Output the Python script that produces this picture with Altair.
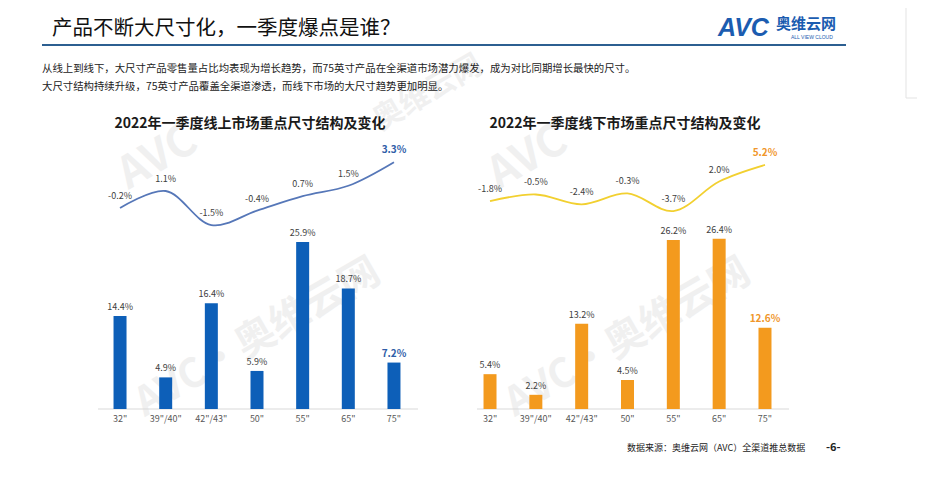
import altair as alt
import pandas as pd

# ---------------- data ----------------
sizes = ['32"', '39"/40"', '42"/43"', '50"', '55"', '65"', '75"']
online_share = [14.4, 4.9, 16.4, 5.9, 25.9, 18.7, 7.2]
online_growth = [-0.2, 1.1, -1.5, -0.4, 0.7, 1.5, 3.3]
offline_share = [5.4, 2.2, 13.2, 4.5, 26.2, 26.4, 12.6]
offline_growth = [-1.8, -0.5, -2.4, -0.3, -3.7, 2.0, 5.2]

title_text = "产品不断大尺寸化，一季度爆点是谁？"
note_lines = [
    "从线上到线下，大尺寸产品零售量占比均表现为增长趋势，而75英寸产品在全渠道市场潜力爆发，成为对比同期增长最快的尺寸。",
    "大尺寸结构持续升级，75英寸产品覆盖全渠道渗透，而线下市场的大尺寸趋势更加明显。",
]
panel_titles = ["2022年一季度线上市场重点尺寸结构及变化", "2022年一季度线下市场重点尺寸结构及变化"]
source_text = "数据来源：奥维云网（AVC）全渠道推总数据"
page_text = "-6-"

FONT = "Noto Sans CJK SC"
W, H = 909, 462


def txt(s, x, y, **kw):
    return alt.Chart(pd.DataFrame({"t": [s]})).mark_text(font=kw.pop("font", FONT), **kw).encode(
        x=alt.value(x), y=alt.value(y), text="t:N"
    )


def panel(share, growth, xrange, line_yrange, bar_color, line_color, hl_color, rule_x, title, title_x):
    df = pd.DataFrame({"size": sizes, "share": share, "growth": growth, "idx": list(range(len(sizes)))})
    df["share_lbl"] = [f"{v:.1f}%" for v in share]
    df["growth_lbl"] = [f"{v:.1f}%" for v in growth]
    xs = alt.Scale(domain=sizes, range=xrange, paddingInner=0, paddingOuter=0)
    X = alt.X("size:N", scale=xs, axis=None)
    ys = alt.Scale(domain=[0, 30], range=[401, 207.5])
    yl = alt.Scale(domain=[-5, 5], range=line_yrange)
    base = alt.Chart(df)
    norm = base.transform_filter("datum.idx < 6")
    hl = base.transform_filter("datum.idx == 6")

    rule = alt.Chart(pd.DataFrame({"a": [0]})).mark_rule(color="#d9d9d9", strokeWidth=1).encode(
        x=alt.value(rule_x[0]), x2=alt.value(rule_x[1]), y=alt.Y(datum=0, scale=ys, axis=None)
    )
    bars = base.mark_bar(size=13, color=bar_color).encode(x=X, y=alt.Y("share:Q", scale=ys, axis=None))
    bar_lbl = norm.mark_text(font=FONT, fontSize=9, color="#404040", dy=-9).encode(
        x=X, y=alt.Y("share:Q", scale=ys, axis=None), text="share_lbl:N"
    )
    bar_hl = hl.mark_text(font=FONT, fontSize=10, fontWeight="bold", color=hl_color, dy=-9).encode(
        x=X, y=alt.Y("share:Q", scale=ys, axis=None), text="share_lbl:N"
    )
    size_lbl = base.mark_text(font=FONT, fontSize=9, color="#595959", dy=10).encode(
        x=X, y=alt.Y(datum=0, scale=ys, axis=None), text="size:N"
    )
    line = base.mark_line(interpolate="catmull-rom", color=line_color, strokeWidth=1.8).encode(
        x=X, y=alt.Y("growth:Q", scale=yl, axis=None)
    )
    line_lbl = norm.mark_text(font=FONT, fontSize=9, color="#404040", dy=-12).encode(
        x=X, y=alt.Y("growth:Q", scale=yl, axis=None), text="growth_lbl:N"
    )
    line_hl = hl.mark_text(font=FONT, fontSize=10, fontWeight="bold", color=hl_color, dy=-12).encode(
        x=X, y=alt.Y("growth:Q", scale=yl, axis=None), text="growth_lbl:N"
    )
    ttl = txt(title, title_x, 116, fontSize=14, fontWeight="bold", color="#1a1a1a", align="center", baseline="middle")
    return [rule, bars, bar_lbl, bar_hl, size_lbl, line, line_lbl, line_hl, ttl]


# watermarks
wm = []
for (x, y, s, fs) in [(150, 150, "AVC", 44), (520, 150, "AVC", 44), (250, 330, "AVC•奥维云网", 40),
                      (620, 330, "AVC•奥维云网", 40), (420, 85, "奥维云网", 30)]:
    wm.append(txt(s, x, y, fontSize=fs, fontWeight="bold", color="#9a9a9a", opacity=0.14,
                  angle=330, align="center", baseline="middle"))

header = [
    txt(title_text, 44, 21, fontSize=20.5, color="#111111", align="left", baseline="middle"),
    alt.Chart(pd.DataFrame({"a": [0]})).mark_rule(color="#2c5f91", strokeWidth=2).encode(
        x=alt.value(34), x2=alt.value(838), y=alt.value(37)
    ),
    txt("AVC", 710, 20, font="Liberation Sans", fontSize=25, fontWeight="bold", fontStyle="italic",
        color="#1b5cb0", align="left", baseline="middle"),
    txt("奥维云网", 768, 16, fontSize=15, fontWeight="bold", color="#1b5cb0", align="left", baseline="middle"),
    txt("ALL VIEW CLOUD", 783, 29, font="Liberation Sans", fontSize=5, color="#1b5cb0", align="left",
        baseline="middle"),
    txt(note_lines[0], 34, 61, fontSize=10.4, color="#222222", align="left", baseline="middle"),
    txt(note_lines[1], 34, 79, fontSize=10.4, color="#222222", align="left", baseline="middle"),
    txt(source_text, 619, 440, fontSize=9, color="#222222", align="left", baseline="middle"),
    txt(page_text, 818, 440, fontSize=11, fontWeight="bold", color="#222222", align="left", baseline="middle"),
    alt.Chart(pd.DataFrame({"a": [0]})).mark_rule(color="#e3e3e3", strokeWidth=1).encode(
        x=alt.value(898), y=alt.value(0), y2=alt.value(90)
    ),
    alt.Chart(pd.DataFrame({"a": [0]})).mark_rule(color="#e3e3e3", strokeWidth=1).encode(
        x=alt.value(898), x2=alt.value(909), y=alt.value(90)
    ),
]

left = panel(online_share, online_growth, [89.2, 408.8], [262.9, 131.9], "#0d5fb8", "#5677b8", "#2f5ea8",
             [90, 410], panel_titles[0], 242)
right = panel(offline_share, offline_growth, [459.1, 779.9], [209.8, 158.0], "#f39a1e", "#f2d030", "#f0962a",
              [469, 781], panel_titles[1], 617)

chart = alt.layer(*wm, *header, *left, *right).resolve_scale(
    x="independent", y="independent"
).properties(
    width=W, height=H, autosize=alt.AutoSizeParams(type="none"), padding=0, background="white"
).configure_view(stroke=None)

chart.save("out.html", embed_options={"renderer": "svg", "actions": False})
